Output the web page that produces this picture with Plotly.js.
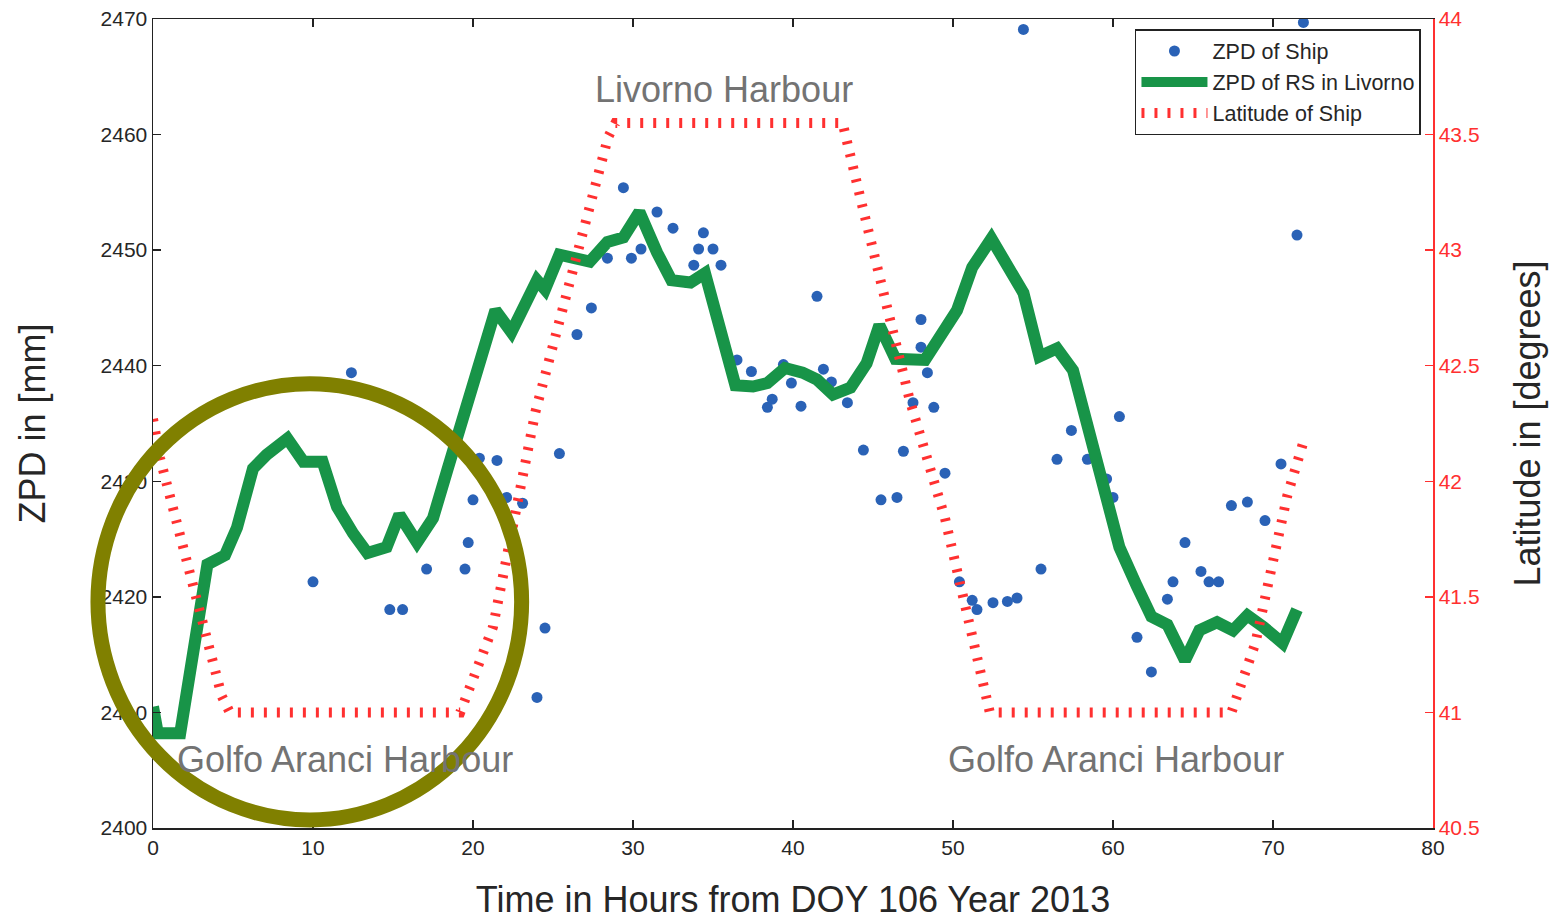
<!DOCTYPE html>
<html>
<head>
<meta charset="utf-8">
<script src="https://cdn.plot.ly/plotly-3.0.1.min.js"></script>
<style>html,body{margin:0;padding:0;background:#fff;}#chart{width:1554px;height:920px;}</style>
</head>
<body>
<div id="chart"></div>
<script>
// ZPD of Ship (blue dots)
const shipHours = [10.0,12.4,14.8,15.6,17.1,19.5,19.7,20.0,20.4,21.5,22.1,23.1,24.0,24.5,25.4,26.5,27.4,28.4,29.4,29.9,30.5,31.5,32.5,33.4,33.8,34.1,34.4,35.0,35.5,36.5,37.4,38.4,38.7,39.4,39.9,40.5,41.5,41.9,42.4,43.4,44.4,45.5,46.5,46.9,47.5,48.0,48.0,48.4,48.8,49.5,50.4,51.2,51.5,52.5,53.4,54.0,54.4,55.5,56.5,57.4,58.4,59.6,60.0,60.4,61.5,62.4,63.4,63.75,64.5,65.5,66.0,66.6,67.4,68.4,69.5,70.5,71.5,71.9];
const shipZpd = [2421.3,2439.4,2418.9,2418.9,2422.4,2422.4,2424.7,2428.4,2432.0,2431.8,2428.6,2428.1,2411.3,2417.3,2432.4,2442.7,2445.0,2449.3,2455.4,2449.3,2450.1,2453.3,2451.9,2447.2,2448.7,2450.1,2451.5,2450.1,2448.7,2440.5,2439.5,2436.4,2437.1,2440.1,2438.5,2436.5,2446.0,2439.7,2438.6,2436.8,2432.7,2428.4,2428.6,2432.6,2436.8,2444.0,2441.6,2439.4,2436.4,2430.7,2421.3,2419.7,2418.9,2419.5,2419.6,2419.9,2469.1,2422.4,2431.9,2434.4,2431.9,2430.2,2428.6,2435.6,2416.5,2413.5,2419.8,2421.3,2424.7,2422.2,2421.3,2421.3,2427.9,2428.2,2426.6,2431.5,2451.3,2469.7];

// ZPD of RS in Livorno (green line)
const rsHours = [0,0.3,1.7,3.4,4.5,5.25,6.25,7.1,8.4,9.4,10.6,11.5,12.5,13.4,14.6,15.4,16.5,17.5,18.4,19.4,20.4,21.4,22.4,24.0,24.5,25.4,27.3,28.4,29.4,30.4,31.5,32.4,33.6,34.5,36.4,37.5,38.4,39.5,40.6,41.5,42.5,43.6,44.6,45.4,46.4,48.25,50.25,51.2,52.4,54.4,55.4,56.5,57.5,59.0,59.8,60.4,61.5,62.4,63.4,64.5,65.4,66.5,67.5,68.4,69.4,70.6,71.5];
const rsZpd = [2410.5,2408.2,2408.2,2422.8,2423.6,2426.0,2431.1,2432.3,2433.7,2431.7,2431.7,2427.8,2425.5,2423.8,2424.3,2427.1,2424.7,2426.8,2431.0,2435.7,2439.5,2444.8,2442.9,2447.4,2446.6,2449.6,2449.0,2450.7,2451.1,2453.3,2449.8,2447.4,2447.2,2448.0,2438.3,2438.2,2438.5,2439.8,2439.4,2438.8,2437.5,2438.1,2440.2,2443.5,2440.6,2440.5,2444.8,2448.5,2451.0,2446.3,2440.8,2441.5,2439.6,2431.6,2427.3,2424.3,2420.9,2418.3,2417.6,2414.5,2417.1,2417.8,2417.1,2418.4,2417.4,2416.0,2418.9];

// Latitude of Ship (red, right axis)
const latHours = [0,0.44,4.3,4.8,19.2,21.25,23.9,28.45,28.9,43.1,44.3,47.3,49.5,51.9,52.3,67.4,68.9,69.8,70.9,71.9];
const latDeg = [42.27,42.10,41.07,41.0,41.0,41.37,42.3,43.49,43.55,43.55,43.2,42.35,41.84,41.08,41.0,41.0,41.30,41.59,41.94,42.17];

// Text labels
const placeNames = ["Livorno Harbour","Golfo Aranci Harbour","Golfo Aranci Harbour"];
const placeHours = [35.7,12.0,60.2];
const placeZpd = [2463.9,2405.9,2405.9];

const xTicks = [0,10,20,30,40,50,60,70,80];
const yTicks = [2400,2410,2420,2430,2440,2450,2460,2470];
const y2Ticks = [40.5,41,41.5,42,42.5,43,43.5,44];

const FONT = 'Liberation Sans, Arial, Helvetica, sans-serif';
const RED = '#ff3030';

const traces = [
  {x: shipHours, y: shipZpd, type:'scatter', mode:'markers', name:'ZPD of Ship',
   marker:{color:'#2a62b6', size:11}, yaxis:'y'},
  {x: rsHours, y: rsZpd, type:'scatter', mode:'lines', name:'ZPD of RS in Livorno',
   line:{color:'#189448', width:12, shape:'linear'}, yaxis:'y'},
  {x: latHours, y: latDeg, type:'scatter', mode:'lines', name:'Latitude of Ship',
   line:{color:RED, width:10, dash:'3px,10px'}, yaxis:'y2'}
];

const annotations = placeNames.map((t,i)=>({
  x: placeHours[i], y: placeZpd[i], xref:'x', yref:'y', text:t, showarrow:false,
  font:{family:FONT, size:36, color:'#737373'}, xanchor:'center', yanchor:'middle'
}));

const layout = {
  width:1554, height:920,
  margin:{l:153, r:121, t:19, b:92},
  paper_bgcolor:'#fff', plot_bgcolor:'#fff',
  font:{family:FONT, color:'#262626'},
  showlegend:true,
  legend:{x:0.9906, y:0.9876, xanchor:'right', yanchor:'top', bgcolor:'#fff',
    bordercolor:'#222', borderwidth:1.5, font:{family:FONT, size:21.5, color:'#262626'},
    itemwidth:66, tracegroupgap:0},
  xaxis:{range:[0,80], tickvals:xTicks, ticks:'inside', ticklen:8, tickwidth:1.5, tickcolor:'#222',
    showline:true, linecolor:'#222', linewidth:1.5, mirror:'ticks', showgrid:false, zeroline:false,
    tickfont:{family:FONT, size:21, color:'#262626'},
    title:{text:'Time in Hours from DOY 106 Year 2013', font:{family:FONT, size:36, color:'#262626'}, standoff:36}},
  yaxis:{range:[2400,2470], tickvals:yTicks, ticks:'inside', ticklen:8, tickwidth:1.5, tickcolor:'#222',
    showline:true, linecolor:'#222', linewidth:1.5, showgrid:false, zeroline:false,
    tickfont:{family:FONT, size:21, color:'#262626'},
    title:{text:'ZPD in [mm]', font:{family:FONT, size:36, color:'#262626'}, standoff:44}},
  yaxis2:{range:[40.5,44], tickvals:y2Ticks, overlaying:'y', side:'right', ticks:'inside', ticklen:8,
    tickwidth:1.5, tickcolor:RED, showline:true, linecolor:RED, linewidth:1.5, showgrid:false, zeroline:false,
    tickfont:{family:FONT, size:21, color:RED},
    title:{text:'Latitude in [degrees]', font:{family:FONT, size:36, color:'#262626'}, standoff:36}},
  annotations: annotations,
  shapes:[{type:'circle', xref:'paper', yref:'paper', x0:-0.043, x1:0.288, y0:0.0099, y1:0.5492,
    line:{color:'#808000', width:15}, layer:'above'}]
};

Plotly.newPlot('chart', traces, layout, {displayModeBar:false, staticPlot:true});
</script>
</body>
</html>
